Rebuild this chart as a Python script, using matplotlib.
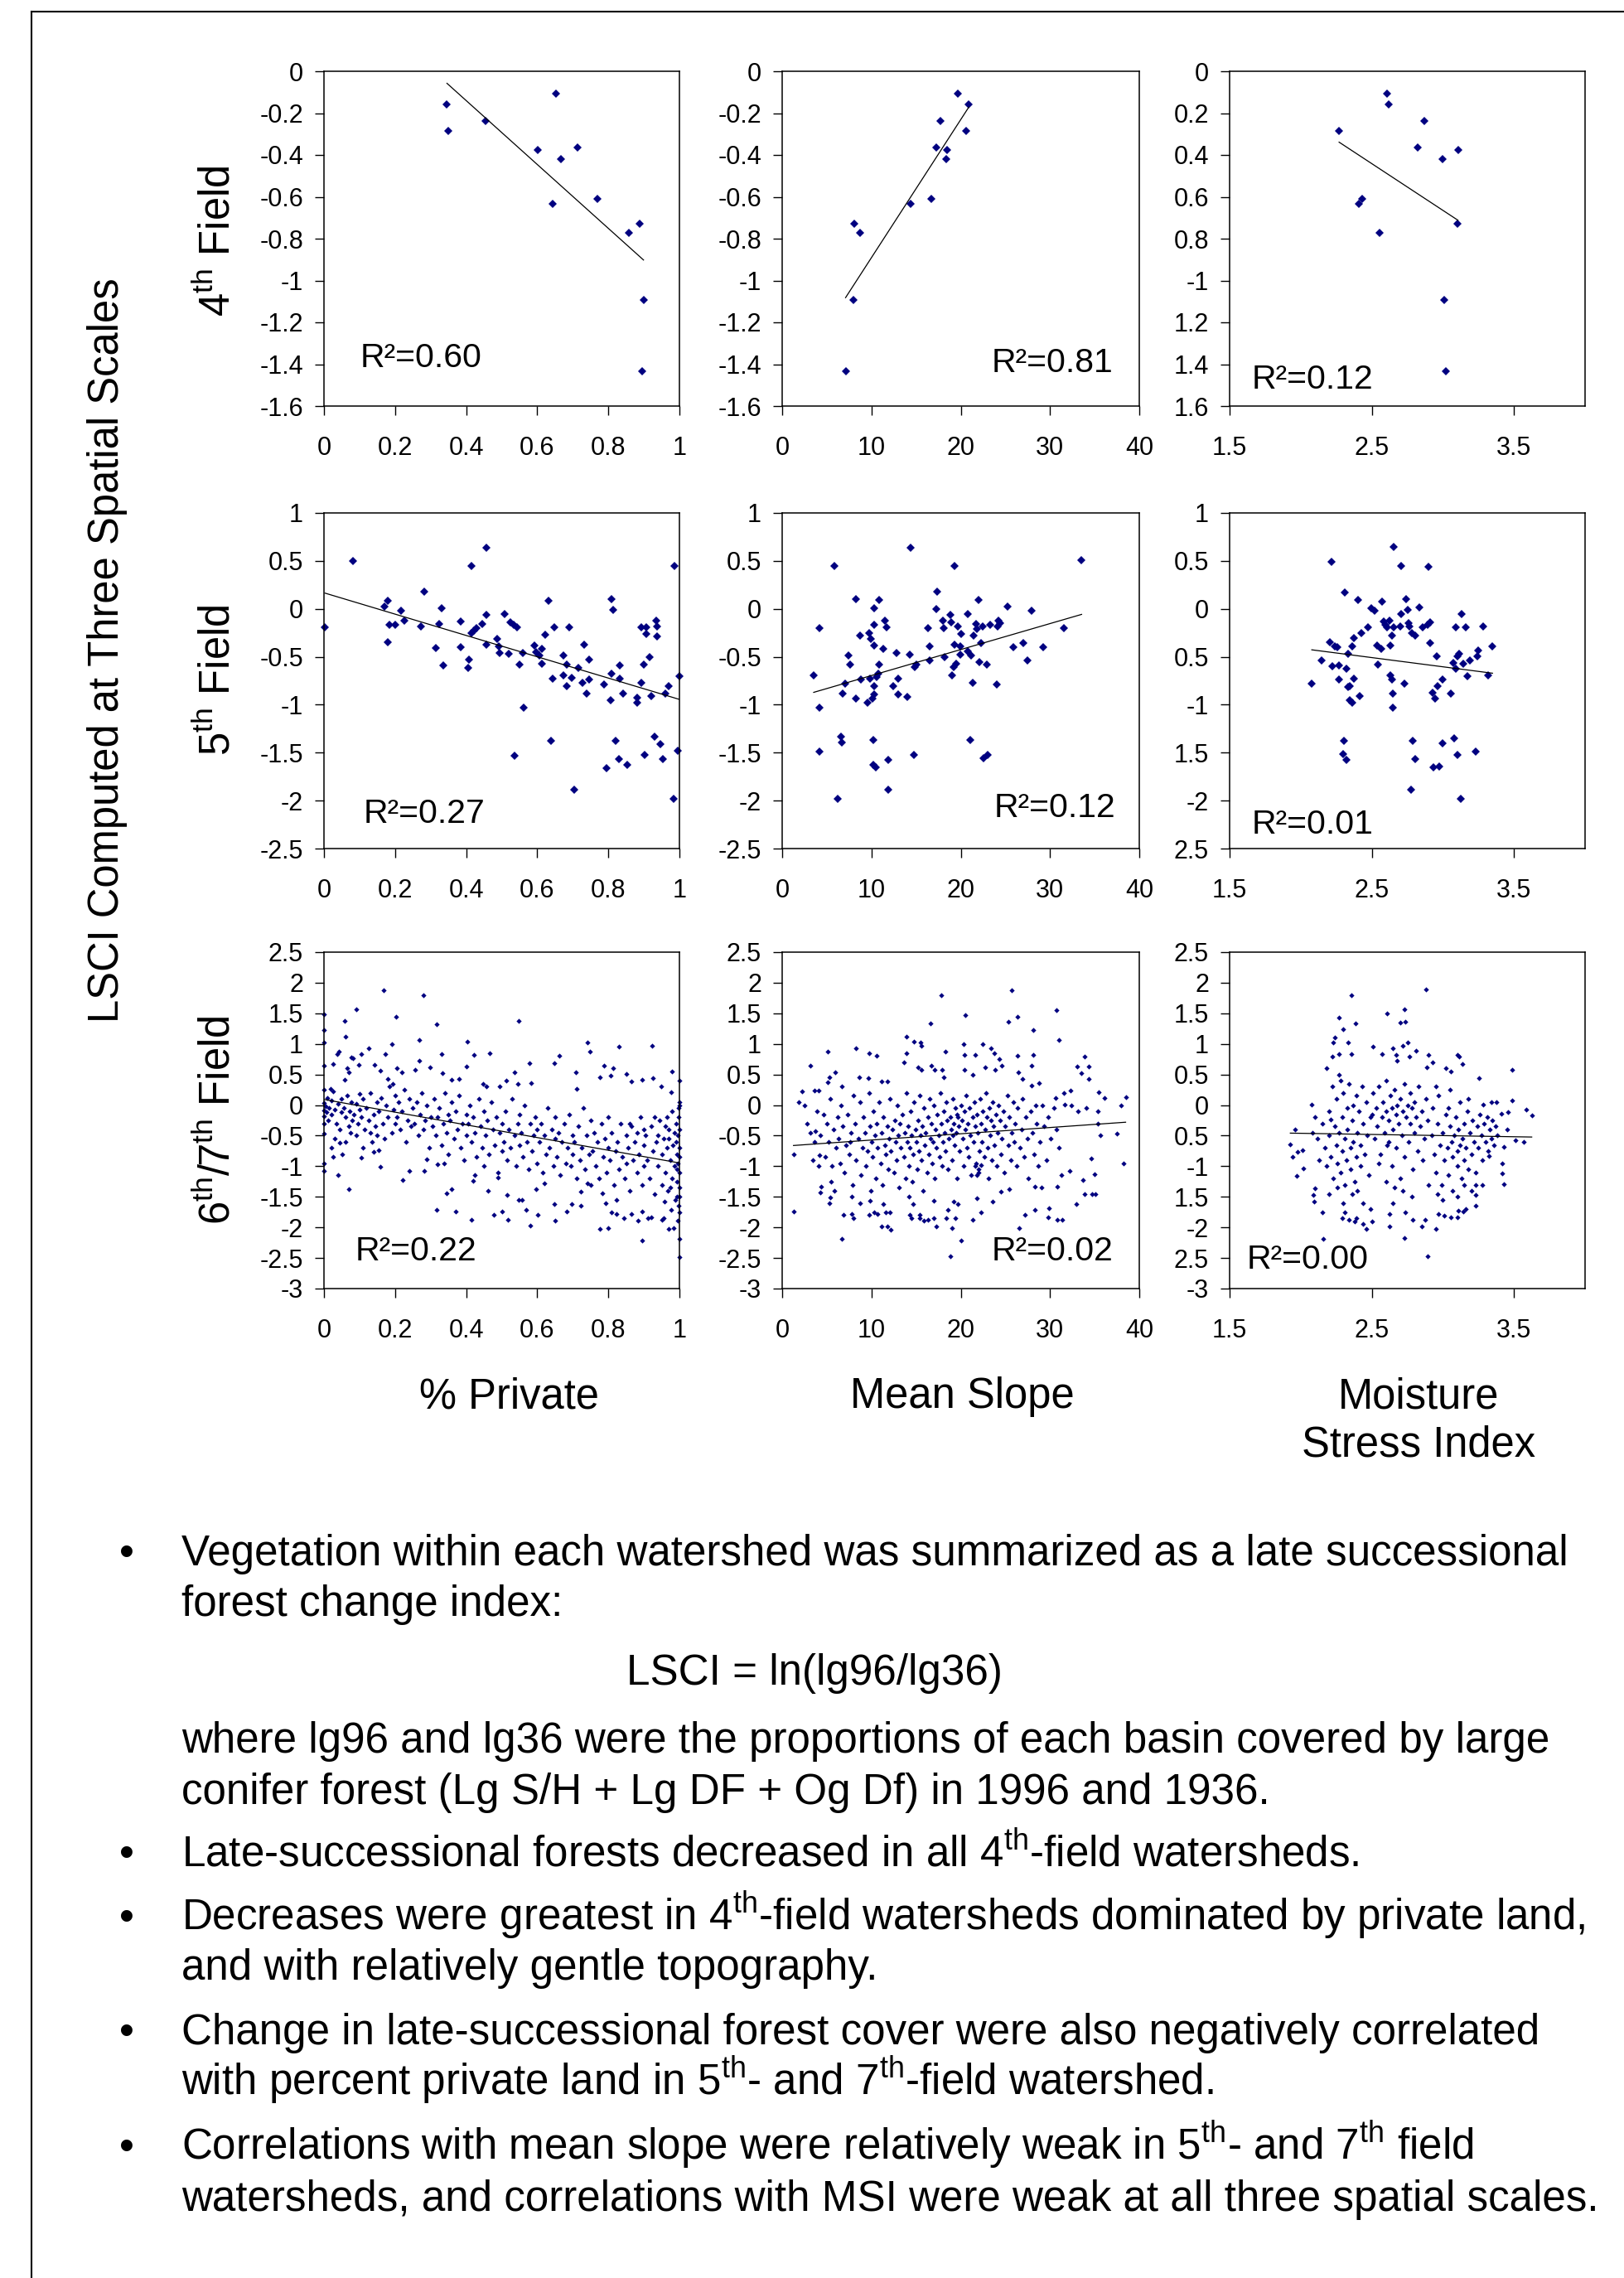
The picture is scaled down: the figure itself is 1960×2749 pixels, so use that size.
import numpy as np
import matplotlib
matplotlib.use("Agg")
import matplotlib.pyplot as plt
from matplotlib.lines import Line2D

plt.rcParams["font.family"] = ["Liberation Sans", "DejaVu Sans"]
plt.rcParams["mathtext.fontset"] = "custom"
plt.rcParams["mathtext.rm"] = "Liberation Sans"
plt.rcParams["mathtext.it"] = "Liberation Sans:italic"
plt.rcParams["mathtext.bf"] = "Liberation Sans:bold"

W, H = 1960, 2749
NAVY = "#000080"

# ---- 4th field watersheds (same LSCI in every column) ----
lsci4 = [-0.108, -0.158, -0.238, -0.287, -0.363, -0.375, -0.42, -0.61, -0.634, -0.729, -0.772, -1.092, -1.432]
private4 = [0.652, 0.346, 0.455, 0.350, 0.714, 0.601, 0.666, 0.769, 0.643, 0.887, 0.858, 0.899, 0.895]
slope4 = [19.7, 20.9, 17.7, 20.6, 17.3, 18.5, 18.35, 16.75, 14.4, 8.1, 8.7, 8.0, 7.1]
msi4 = [2.607, 2.617, 2.868, 2.27, 2.822, 3.106, 2.999, 2.43, 2.41, 3.104, 2.552, 3.009, 3.019]

# ---- 5th field watersheds (x, LSCI) ----
private5 = [(0.003,-0.196),(0.082,0.50),(0.169,0.02),(0.179,0.086),(0.183,-0.17),(0.179,-0.35),(0.20,-0.17),
    (0.217,-0.017),(0.226,-0.12),(0.273,-0.18),(0.281,0.18),(0.314,-0.41),(0.323,-0.16),(0.331,0.01),(0.335,-0.59),
    (0.384,-0.13),(0.384,-0.40),(0.406,-0.62),(0.408,-0.53),(0.415,0.45),(0.415,-0.25),(0.422,-0.23),(0.430,-0.20),
    (0.446,-0.16),(0.458,0.64),(0.457,-0.06),(0.456,-0.37),(0.488,-0.31),(0.493,-0.39),(0.495,-0.46),(0.509,-0.05),
    (0.519,-0.47),(0.525,-0.14),(0.534,-0.17),(0.542,-0.19),(0.537,-1.53),(0.551,-0.58),(0.559,-0.46),(0.562,-1.03),
    (0.592,-0.38),(0.596,-0.45),(0.606,-0.49),(0.614,-0.42),(0.612,-0.57),(0.622,-0.27),(0.632,0.086),(0.638,-1.38),
    (0.644,-0.73),(0.648,-0.19),(0.674,-0.49),(0.674,-0.69),(0.682,-0.58),(0.683,-0.81),(0.690,-0.19),(0.697,-0.72),
    (0.705,-1.89),(0.715,-0.62),(0.728,-0.77),(0.733,-0.37),(0.740,-0.88),(0.745,-0.53),(0.747,-0.74),(0.787,-0.79),
    (0.795,-1.66),(0.807,-0.95),(0.810,0.10),(0.814,-0.01),(0.810,-0.68),(0.821,-1.38),(0.830,-1.57),(0.833,-0.59),
    (0.833,-0.73),(0.841,-0.88),(0.853,-1.63),(0.881,-0.93),(0.881,-0.98),(0.893,-0.19),(0.893,-0.77),(0.899,-0.58),
    (0.901,-1.52),(0.907,-0.19),(0.907,-0.26),(0.917,-0.50),(0.921,-0.91),(0.929,-1.33),(0.934,-0.12),(0.936,-0.18),
    (0.938,-0.29),(0.946,-1.41),(0.954,-1.57),(0.961,-0.88),(0.970,-0.81),(0.984,-1.98),(0.986,0.45),(0.996,-1.48),
    (1.0,-0.70)]
slope5 = [(3.53,-0.694),(4.13,-1.03),(4.2,-0.197),(4.2,-1.49),(5.82,0.443),(6.2,-1.98),(6.61,-1.33),(6.68,-1.39),
    (6.77,-0.88),(7.06,-0.78),(7.4,-0.49),(7.57,-0.58),(8.27,0.104),(8.27,-0.94),(8.68,-0.28),(8.84,-0.74),(9.6,-0.98),
    (9.7,-0.25),(9.86,-0.73),(9.95,-0.31),(10.1,-0.94),(10.17,-1.37),(10.24,-1.63),(10.33,0.01),(10.33,-0.17),
    (10.33,-0.38),(10.33,-0.81),(10.33,-0.89),(10.49,-1.65),(10.59,-0.71),(10.9,0.09),(10.9,-0.585),(11.29,-0.42),
    (11.54,-0.12),(11.67,-0.19),(10.8,-0.68),(11.92,-1.89),(11.92,-1.575),(12.4,-0.81),(12.81,-0.46),(12.97,-0.73),
    (12.97,-0.89),(13.99,-0.915),(14.3,-0.475),(14.4,0.64),(14.72,-1.52),(14.85,-0.61),(15.04,-0.58),(16.37,-0.197),
    (16.53,-0.39),(16.53,-0.54),(17.27,-0.005),(17.39,0.176),(17.96,-0.12),(18.12,-0.197),(18.19,-0.50),(18.86,-0.06),
    (18.92,-0.14),(19.01,-0.694),(19.24,-0.605),(19.3,0.443),(19.3,-0.37),(19.49,-0.576),(19.65,-0.18),(19.94,-0.39),
    (19.97,-0.475),(20.03,-0.26),(20.76,-0.05),(20.83,-0.44),(21.14,-0.49),(21.08,-1.37),(21.37,-0.77),(21.46,-0.28),
    (21.69,-0.16),(21.84,-0.21),(22.0,0.09),(22.1,-0.556),(22.26,-0.36),(22.48,-0.18),(22.58,-1.56),(22.9,-0.585),
    (22.99,-1.52),(23.31,-0.17),(24.0,-0.786),(24.1,-0.18),(24.26,-0.125),(24.42,-0.15),(25.21,0.024),(25.85,-0.40),
    (27.03,-0.36),(27.44,-0.54),(27.89,-0.02),(29.25,-0.40),(31.57,-0.197),(33.54,0.506)]
msi5 = [(2.078,-0.776),(2.145,-0.538),(2.215,0.493),(2.207,-0.352),(2.225,-0.595),(2.239,-0.39),(2.259,-0.404),
    (2.271,-0.59),(2.271,-0.733),(2.302,-1.375),(2.30,-1.518),(2.312,0.172),(2.32,-0.624),(2.322,-1.575),(2.332,-0.467),
    (2.336,-0.819),(2.346,-0.81),(2.346,-0.954),(2.36,-0.983),(2.36,-0.39),(2.372,-0.725),(2.376,-0.309),(2.402,0.092),
    (2.416,-0.911),(2.426,-0.252),(2.473,-0.195),(2.497,0.006),(2.521,-0.017),(2.537,-0.381),(2.541,-0.582),
    (2.567,-0.418),(2.574,0.077),(2.582,-0.132),(2.598,-0.166),(2.608,-0.195),(2.624,-0.123),(2.628,-0.381),
    (2.628,-0.696),(2.644,-0.739),(2.642,-0.275),(2.648,-0.882),(2.648,-1.034),(2.654,0.642),(2.654,-0.195),
    (2.698,-0.18),(2.704,-0.057),(2.708,0.45),(2.728,-0.782),(2.739,0.097),(2.755,-0.009),(2.759,-0.152),(2.763,-0.18),
    (2.775,-1.885),(2.783,-0.252),(2.785,-1.375),(2.805,-0.275),(2.805,-1.57),(2.835,0.011),(2.86,-0.195),(2.89,-0.166),
    (2.90,0.435),(2.91,-0.138),(2.91,-0.361),(2.926,-0.877),(2.936,-1.656),(2.944,-0.94),(2.956,-0.496),(2.964,-0.802),
    (2.976,-1.641),(3.0,-1.404),(3.0,-0.733),(3.057,-0.882),(3.071,-0.567),(3.077,-1.349),(3.091,-0.195),(3.091,-0.624),
    (3.101,-0.496),(3.105,-1.527),(3.117,-0.467),(3.125,-1.985),(3.131,-0.057),(3.141,-0.573),(3.161,-0.195),
    (3.172,-0.704),(3.192,-0.538),(3.228,-1.49),(3.242,-0.496),(3.246,-0.438),(3.282,-0.18),(3.319,-0.69),(3.349,-0.39)]

# ---- 6th/7th field watersheds (x, LSCI) ----
private7 = [(0,1.48),(0,1.22),(0,1.02),(0,0.64),(0,0.25),(0,0.03),(0,-0.09),(0,-0.18),(0,-0.31),(0,-0.47),(0,-0.95),(0,-1.07),
    (0.058,1.37),(0.06,1.12),(0.092,1.57),(0.167,1.88),(0.279,1.80),(0.203,1.45),(0.318,1.32),(0.267,1.06),(0.191,1.0),
    (0.403,1.04),(0.548,1.37),(0.741,1.02),(0.749,0.88),(0.829,0.96),(0.922,0.97),(0.466,0.85),(0.026,0.67),(0.018,0.26),
    (0.038,0.84),(0.042,0.87),(0.076,0.78),(0.082,0.77),(0.106,0.84),(0.126,0.93),(0.172,0.84),(0.097,0.66),(0.066,0.61),
    (0.07,0.54),(0.058,0.41),(0.142,0.66),(0.158,0.56),(0.179,0.43),(0.205,0.61),(0.219,0.54),(0.193,0.35),(0.257,0.57),
    (0.267,0.72),(0.298,0.62),(0.332,0.84),(0.334,0.52),(0.36,0.41),(0.379,0.43),(0.40,0.63),(0.422,0.82),(0.447,0.35),
    (0.456,0.30),(0.494,0.30),(0.513,0.40),(0.537,0.54),(0.545,0.34),(0.577,0.68),(0.582,0.36),(0.647,0.69),(0.663,0.81),
    (0.709,0.54),(0.712,0.27),(0.776,0.46),(0.787,0.64),(0.807,0.48),(0.813,0.60),(0.851,0.51),(0.865,0.39),(0.894,0.41),
    (0.926,0.44),(0.948,0.31),(0.977,0.21),(0.98,0.55),(1.0,0.40),(1.0,0.05),
    (0.04,-1.15),(0.07,-1.37),(0.106,-0.86),(0.026,-0.85),(0.052,-0.81),(0.159,-1.01),(0.141,-0.77),(0.153,-0.74),
    (0.221,-1.23),(0.239,-1.08),(0.282,-1.07),(0.29,-0.88),(0.316,-1.71),(0.32,-0.97),(0.338,-0.95),(0.345,-1.44),
    (0.36,-1.38),(0.37,-1.74),(0.416,-1.87),(0.42,-1.24),(0.424,-1.15),(0.462,-1.40),(0.477,-1.80),(0.489,-1.19),
    (0.502,-1.74),(0.515,-1.47),(0.517,-1.87),(0.548,-1.55),(0.557,-1.55),(0.569,-1.71),(0.581,-1.97),(0.597,-1.38),
    (0.601,-1.80),(0.62,-1.28),(0.647,-1.62),(0.65,-1.89),(0.684,-1.74),(0.696,-1.62),(0.722,-1.65),(0.722,-1.42),
    (0.741,-1.28),(0.776,-2.02),(0.784,-1.44),(0.793,-1.60),(0.80,-2.01),(0.808,-1.76),(0.824,-1.78),(0.824,-1.55),
    (0.843,-1.85),(0.865,-1.78),(0.883,-1.89),(0.894,-2.21),(0.895,-1.74),(0.911,-1.85),(0.921,-1.83),(0.95,-1.87),
    (0.969,-2.03),(0.976,-1.71),(0.984,-2.01),(1.0,-2.19),(1.0,-2.48),(0.996,-1.89),(1.0,-1.76),(0.992,-1.49),
    (0.956,-1.85),(0.958,-1.58),
    (0.005,-0.02),(0.008,-0.12),(0.01,0.12),(0.012,-0.25),(0.015,-0.05),(0.02,0.08),(0.022,-0.15),(0.025,0.22),
    (0.03,-0.08),(0.035,-0.3),(0.04,0.02),(0.045,-0.4),(0.048,-0.12),(0.05,0.1),(0.055,-0.05),(0.06,-0.2),(0.065,0.15),
    (0.07,-0.35),(0.072,-0.1),(0.078,0.05),(0.08,-0.25),(0.085,-0.15),(0.09,0.02),(0.095,-0.3),(0.1,-0.08),(0.1,0.18),
    (0.03,-0.55),(0.06,-0.6),(0.09,-0.5),(0.11,-0.7),(0.02,-0.7),(0.13,-0.45),(0.045,-0.62),(0.075,-0.45),
    (0.105,-0.2),(0.11,0.1),(0.115,-0.4),(0.12,-0.05),(0.125,-0.25),(0.13,0.2),(0.135,-0.6),(0.14,-0.15),(0.145,-0.35),
    (0.15,0.05),(0.15,-0.5),(0.155,-0.1),(0.16,0.12),(0.165,-0.3),(0.17,-0.55),(0.175,0.0),(0.18,-0.2),(0.185,0.3),
    (0.19,-0.45),(0.195,-0.08),(0.2,0.15),(0.2,-0.3),(0.205,-0.2),(0.21,0.05),(0.215,-0.4),(0.22,-0.1),(0.225,0.25),
    (0.23,-0.6),(0.235,-0.25),(0.24,0.1),(0.245,-0.35),(0.25,-0.05),(0.255,-0.3),(0.26,0.05),(0.265,-0.5),(0.27,-0.15),
    (0.275,0.2),(0.28,-0.4),(0.285,-0.25),(0.29,0.0),(0.295,-0.7),(0.3,-0.2),(0.305,-0.35),(0.31,0.1),(0.315,-0.5),
    (0.32,-0.2),(0.325,-0.05),(0.33,-0.65),(0.335,-0.3),(0.34,0.2),(0.345,-0.45),(0.35,-0.15),(0.35,-0.8),(0.355,-0.25),
    (0.36,0.05),(0.365,-0.55),(0.37,-0.1),(0.375,-0.4),(0.38,0.15),(0.385,-0.7),(0.39,-0.3),(0.395,-0.9),(0.4,-0.15),
    (0.4,-0.5),(0.405,-0.3),(0.41,0.0),(0.415,-0.6),(0.42,-0.2),(0.425,-0.45),(0.43,-0.85),(0.435,0.1),(0.44,-0.35),
    (0.445,-0.7),(0.45,-0.1),(0.45,-1.0),(0.455,-0.5),(0.46,-0.25),(0.465,-0.8),(0.47,0.05),(0.475,-0.4),(0.48,-0.65),
    (0.485,-0.2),(0.49,-1.1),(0.495,-0.45),(0.5,-0.3),(0.5,-0.75),(0.505,-0.6),(0.51,-0.1),(0.515,-0.9),(0.52,-0.4),
    (0.525,-0.7),(0.53,0.1),(0.535,-0.5),(0.54,-1.0),(0.545,-0.3),(0.55,-0.65),(0.55,-0.15),(0.555,-0.45),(0.56,-0.85),
    (0.565,0.0),(0.57,-0.6),(0.575,-1.05),(0.58,-0.3),(0.585,-0.75),(0.59,-0.5),(0.595,-0.2),(0.6,-0.95),(0.6,-0.4),
    (0.605,-0.6),(0.61,-0.3),(0.615,-1.1),(0.62,-0.5),(0.625,-0.8),(0.63,-0.05),(0.635,-0.7),(0.64,-0.4),(0.645,-1.0),
    (0.65,-0.55),(0.65,-0.2),(0.655,-0.85),(0.66,-0.45),(0.665,-1.15),(0.67,-0.6),(0.675,-0.3),(0.68,-0.95),(0.685,-0.7),
    (0.69,-0.15),(0.695,-1.0),(0.7,-0.5),(0.7,-0.8),(0.705,-0.6),(0.71,-1.2),(0.715,-0.35),(0.72,-0.9),(0.725,-0.7),
    (0.73,-0.05),(0.735,-1.05),(0.74,-0.5),(0.745,-0.8),(0.75,-0.25),(0.75,-1.3),(0.755,-0.75),(0.76,-0.45),(0.765,-1.0),
    (0.77,-0.6),(0.775,-1.2),(0.78,-0.3),(0.785,-0.85),(0.79,-0.55),(0.795,-1.1),(0.8,-0.7),(0.8,-0.2),(0.805,-0.9),
    (0.81,-0.45),(0.815,-1.3),(0.82,-0.75),(0.825,-0.6),(0.83,-1.05),(0.835,-0.3),(0.84,-0.85),(0.845,-1.2),(0.85,-0.5),
    (0.85,-0.95),(0.855,-0.7),(0.86,-1.4),(0.865,-0.35),(0.87,-0.9),(0.875,-0.6),(0.88,-1.1),(0.885,-0.8),(0.89,-0.2),
    (0.895,-1.3),(0.9,-0.65),(0.9,-1.0),(0.905,-0.5),(0.91,-0.9),(0.915,-1.2),(0.92,-0.35),(0.925,-0.75),(0.93,-1.45),
    (0.935,-0.6),(0.94,-1.0),(0.945,-0.25),(0.95,-0.8),(0.95,-1.3),(0.955,-0.55),(0.96,-1.1),(0.965,-0.7),(0.968,-1.4),
    (0.97,-0.4),(0.975,-0.9),(0.978,-1.2),(0.98,-0.1),(0.982,-0.65),(0.985,-1.0),(0.988,-1.55),(0.99,-0.3),(0.992,-0.8),
    (0.994,-1.25),(0.995,-0.5),(0.996,-0.95),(0.998,-1.65),(0.998,-0.05),(1.0,-0.7),(1.0,-1.1),(1.0,-0.4),(1.0,-1.35),
    (1.0,0.0),(1.0,-0.85),(1.0,-1.5),(0.997,-0.2),(0.993,-1.05),(0.985,-0.45),(0.975,-1.35),(0.965,-0.2),
    (0.86,-0.3),(0.9,-0.4),(0.93,-0.2),(0.97,-0.55),(0.99,-0.6),(0.96,-0.35),(0.88,-0.45),(0.94,-0.5)]

slope7 = [(1.27,-0.80),(1.27,-1.74),(1.84,0.05),(2.23,0.23),(2.54,-0.01),(3.18,0.65),(3.18,-0.45),(3.66,0.24),(3.72,-0.42),
    (4.07,0.24),(4.13,-0.82),(4.07,-1.00),(4.23,-1.43),(4.36,-1.33),(5.09,0.88),(5.09,0.37),(5.25,0.46),(5.98,0.53),
    (6.68,0.30),(6.68,-2.19),(6.84,-1.79),(5.25,-1.61),(5.34,-1.51),(5.88,-1.40),(8.27,0.93),(8.59,0.46),(9.70,0.85),
    (9.63,0.44),(10.59,0.80),(11.13,0.39),(11.76,0.39),(13.67,0.70),(13.9,1.12),(13.93,0.85),(14.79,1.04),(15.49,1.02),
    (15.58,0.97),(15.26,0.62),(15.58,0.57),(16.62,1.33),(16.69,0.65),(17.07,0.57),(17.81,1.80),(17.91,0.57),(18.12,0.45),
    (18.28,0.88),(20.35,1.00),(20.51,1.47),(20.44,0.82),(20.44,0.57),(21.30,0.50),(21.62,0.82),(22.42,1.00),(22.73,0.62),
    (23.37,0.93),(23.75,0.85),(23.85,0.57),(24.33,0.75),(24.58,0.64),(25.34,1.36),(25.69,1.88),(26.39,1.45),(26.39,0.80),
    (26.49,0.54),(26.87,0.43),(28.14,1.23),(28.08,0.82),(27.98,0.65),(27.98,0.32),(28.78,0.36),(30.68,1.55),(31.0,1.06),
    (30.62,0.12),(31.57,0.20),(32.27,0.24),(33.07,0.63),(33.54,0.52),(33.86,0.79),(34.34,0.63),(34.34,0.43),(35.45,0.21),
    (36.09,0.11),(38.47,0.13),(37.93,-0.01),(31.64,0.01),(32.43,-0.01),(33.13,-0.10),(34.1,-0.05),(35.4,-0.10),
    (35.4,-0.30),(35.6,-0.50),(37.5,-0.47),(38.2,-0.96),(34.6,-0.87),(35.0,-1.13),(33.7,-1.22),(33.9,-1.45),(34.7,-1.45),
    (35.1,-1.45),(32.97,-1.62),(32.2,-1.08),(31.3,-1.15),(30.8,-1.33),(30.8,-1.87),(31.4,-1.87),(29.9,-1.69),(29.8,-1.83),
    (29.03,-1.35),(28.3,-1.71),(28.3,-1.33),(27.2,-1.80),(26.5,-2.01),(25.4,-1.38),(24.5,-1.42),(23.6,-1.58),(22.3,-1.76),
    (21.8,-1.53),(21.3,-1.88),(20.0,-2.21),(18.85,-2.47),(19.0,-2.01),(18.4,-1.85),(18.6,-1.71),(19.2,-1.58),(19.4,-1.85),
    (19.65,-1.62),(17.3,-1.98),(16.95,-1.85),(16.95,-1.56),(15.9,-1.89),(16.3,-1.87),(15.4,-1.80),(15.45,-1.85),
    (14.5,-1.85),(14.3,-1.80),(14.7,-1.62),(14.2,-1.49),(12.2,-2.04),(11.8,-1.98),(11.1,-1.98),(11.3,-1.62),(11.6,-1.76),
    (12.1,-1.75),(10.7,-1.78),(10.3,-1.75),(9.7,-1.79),(9.8,-1.56),(8.7,-1.61),(7.95,-1.85),(7.8,-1.78),(7.8,-1.49),
    (2.8,-0.3),(3.4,-0.9),(3.9,-0.1),(3.6,-0.6),
    (4.3,-0.5),(4.6,-0.15),(4.8,-0.85),(5.0,-0.3),(5.2,-0.6),(5.4,0.1),(5.6,-1.0),(5.8,-0.4),(6.0,-0.7),(6.2,-0.2),
    (5.5,-1.25),(6.3,-0.55),(6.5,-0.95),(6.6,0.0),(6.8,-0.35),(7.0,-1.1),(7.1,-0.65),(7.3,-0.15),(7.5,-0.8),(7.7,-0.45),
    (7.9,-1.3),(8.0,0.15),(7.6,-0.6),(8.2,-0.3),(8.3,-0.9),(8.5,-0.55),(8.7,0.05),(8.8,-1.15),(9.0,-0.7),(9.1,-0.2),
    (9.3,-0.45),(9.4,-1.0),(9.6,-0.75),(9.7,0.2),(9.8,-0.35),(9.9,-1.4),(10.0,-0.6),(10.1,-0.85),(10.2,-0.1),(10.4,-0.5),
    (10.5,-1.2),(10.6,-0.3),(10.7,-0.7),(10.9,0.05),(11.0,-0.95),(11.1,-0.45),(11.2,-1.3),(11.3,-0.2),(11.5,-0.65),
    (11.6,-0.8),(11.8,-0.35),(11.9,-1.05),(12.0,-0.55),(12.1,0.1),(12.2,-0.75),(12.3,-0.4),(12.5,-1.1),(12.6,-0.25),
    (12.7,-0.6),(12.8,-0.9),(12.9,0.0),(13.0,-0.5),(13.1,-1.35),(13.2,-0.3),(13.3,-0.7),(13.5,-0.15),(13.6,-0.85),
    (13.7,-0.45),(13.8,-1.2),(13.9,0.2),(14.0,-0.6),(14.1,-0.35),(14.2,-1.0),(14.3,-0.7),(14.4,-0.1),(14.5,-0.5),
    (14.6,-1.25),(14.7,-0.8),(14.8,0.05),(14.9,-0.4),(15.0,-0.6),(15.1,-1.05),(15.2,-0.25),(15.3,-0.75),(15.4,0.15),
    (15.5,-0.5),(15.6,-0.9),(15.7,-0.35),(15.8,-1.4),(15.9,-0.05),(16.0,-0.65),(16.1,-0.45),(16.2,-1.1),(16.3,-0.2),
    (16.4,-0.8),(16.5,0.1),(16.6,-0.55),(16.7,-0.3),(16.8,-0.95),(16.9,-0.6),(17.0,0.0),(17.1,-1.2),(17.2,-0.4),
    (17.3,-0.7),(17.4,-0.15),(17.5,-0.5),(17.6,-0.85),(17.7,0.2),(17.8,-0.3),(17.9,-1.0),(18.0,-0.6),(18.1,-0.1),
    (18.2,-0.45),(18.3,-0.75),(18.4,0.05),(18.5,-0.25),(18.6,-1.05),(18.7,-0.55),(18.8,-0.2),(18.9,-0.4),(19.0,-0.9),
    (19.1,0.1),(19.2,-0.3),(19.3,-0.65),(19.4,-0.05),(19.5,-0.45),(19.6,-1.2),(19.7,-0.2),(19.8,-0.35),(19.9,-0.75),
    (20.0,0.0),(19.15,-0.5),(19.55,-0.15),(20.1,-0.25),(20.2,-0.55),(20.3,-1.0),(20.4,-0.1),(20.5,-0.4),(20.6,0.15),
    (20.7,-0.7),(20.8,-0.3),(20.9,-0.85),(21.0,-0.05),(21.1,-0.5),(21.2,-1.15),(21.3,-0.2),(21.4,-0.6),(21.5,0.05),
    (21.6,-0.35),(21.7,-0.95),(21.8,-0.15),(21.9,-0.45),(22.0,-1.05),(22.1,-0.75),(22.2,0.1),(21.6,-1.0),(22.0,-1.1),
    (22.3,-0.98),(21.8,-1.15),(22.3,-0.3),(22.4,-0.6),(22.5,-0.1),(22.6,-0.85),(22.7,-0.4),(22.8,0.2),(22.9,-0.2),
    (23.0,-0.7),(23.1,-1.2),(23.2,-0.05),(23.3,-0.5),(23.4,-0.25),(23.5,-0.9),(23.6,0.05),(23.7,-0.35),(23.8,-0.65),
    (23.9,-0.15),(24.0,-1.0),(24.1,-0.45),(24.2,0.0),(24.4,-0.25),(24.5,-0.8),(24.6,-0.55),(24.8,-0.1),(24.9,-1.1),
    (25.0,-0.35),(25.2,0.15),(25.3,-0.65),(25.4,-0.2),(25.6,-0.9),(25.7,-0.45),(25.9,0.05),(26.0,-0.6),(26.1,-0.3),
    (26.3,-1.0),(26.4,-0.05),(26.6,-0.7),(26.8,-0.4),(26.9,0.1),(27.1,-0.85),(27.3,-0.2),(27.5,-0.55),(27.6,-1.2),
    (27.8,-0.1),(28.0,-0.45),(28.2,-0.8),(28.4,0.0),(28.5,-0.3),(28.7,-1.0),(28.9,-0.6),(29.1,0.0),(29.3,-0.35),
    (29.6,-0.9),(29.8,-0.2),(30.1,-0.55),(30.4,-0.05),(30.7,-0.4),(31.0,-0.7)]

msi7 = [(1.927,-0.64),(1.94,-0.84),(1.96,-0.40),(1.97,-1.16),(1.975,-0.77),(2.01,-0.74),(2.02,-1.04),(2.076,0.01),
    (2.10,-1.36),(2.09,-1.47),(2.095,-1.58),(2.15,-1.75),(2.16,-2.19),(2.18,0.60),(2.21,-0.23),(2.22,0.79),(2.23,1.03),
    (2.24,1.10),(2.27,1.43),(2.30,1.24),(2.27,0.84),(2.335,1.03),(2.356,1.80),(2.356,0.84),(2.385,1.33),(2.31,-1.76),
    (2.29,-1.85),(2.34,-1.87),(2.38,-1.90),(2.39,-1.85),(2.44,-1.94),(2.46,-2.03),(2.49,-1.70),(2.50,-1.90),(2.51,0.96),
    (2.57,0.84),(2.61,1.50),(2.625,-1.78),(2.625,-1.99),(2.65,-1.61),(2.65,0.93),(2.67,0.82),(2.68,0.73),(2.70,1.35),
    (2.73,1.56),(2.734,1.36),(2.72,0.97),(2.75,1.03),(2.765,0.79),(2.81,0.89),(2.73,-2.17),(2.734,-1.75),(2.79,-1.87),
    (2.88,1.89),(2.885,0.62),(2.90,0.82),(2.925,0.70),(2.89,-2.47),(2.854,-1.99),(2.875,-1.87),(2.95,-2.02),(2.97,-1.78),
    (3.01,-1.81),(3.055,-1.84),(3.02,0.61),(3.055,0.55),(3.105,0.82),(3.115,0.79),(3.14,0.67),(3.11,-1.72),(3.105,-1.83),
    (3.145,-1.74),(3.16,-1.70),(3.23,-1.47),(3.23,-1.64),(3.23,-1.31),(3.275,-1.31),(3.255,0.44),(3.285,0.01),(3.34,0.05),
    (3.375,0.05),(3.41,-0.14),(3.46,-0.12),(3.455,-0.40),(3.486,0.58),(3.486,0.07),(3.51,-0.57),(3.57,-0.60),
    (3.585,-0.08),(3.625,-0.17),(3.426,-0.68),(3.42,-0.96),(3.42,-1.12),(3.43,-1.29),(3.325,-0.83),
    (2.15,-0.3),(2.17,-0.7),(2.18,-1.0),(2.2,-0.1),(2.2,-0.5),(2.21,-0.85),(2.22,0.3),(2.23,-1.2),(2.24,-0.35),
    (2.25,-0.65),(2.25,0.1),(2.26,-0.95),(2.27,-0.45),(2.27,0.5),(2.28,-1.1),(2.29,-0.2),(2.29,-0.75),(2.3,0.2),
    (2.31,-0.55),(2.31,-1.3),(2.32,-0.9),(2.33,-0.05),(2.33,-0.4),(2.34,0.35),(2.35,-0.7),(2.35,-1.05),(2.36,-0.25),
    (2.37,0.0),(2.37,-0.6),(2.38,-1.25),(2.39,-0.85),(2.39,0.15),(2.4,-0.45),(2.41,-0.1),(2.42,-1.0),(2.42,-0.65),
    (2.43,0.3),(2.44,-0.3),(2.45,-0.8),(2.46,0.05),(2.47,-0.5),(2.48,-1.15),(2.49,-0.2),(2.12,-0.55),(2.13,-0.9),
    (2.1,-0.2),(2.08,-0.45),(2.28,0.4),(2.36,-1.45),(2.26,-1.35),(2.4,-1.4),(2.2,-1.45),(2.44,-1.6),(2.3,-1.6),
    (2.5,-0.15),(2.51,0.2),(2.52,-0.55),(2.53,-0.05),(2.54,-0.35),(2.55,0.3),(2.56,-0.8),(2.57,-0.2),(2.58,0.05),
    (2.59,-0.45),(2.6,-0.1),(2.6,0.4),(2.61,-0.65),(2.62,-0.25),(2.63,0.15),(2.64,-1.0),(2.64,-0.05),(2.65,-0.4),
    (2.66,0.25),(2.67,-0.15),(2.67,-0.7),(2.68,0.0),(2.69,-0.3),(2.7,-1.2),(2.7,0.1),(2.71,-0.5),(2.72,-0.1),(2.73,0.35),
    (2.73,-0.85),(2.74,-0.2),(2.75,0.0),(2.76,-0.6),(2.77,-0.3),(2.77,0.2),(2.78,-0.05),(2.79,-1.05),(2.8,-0.45),
    (2.8,0.05),(2.81,-0.2),(2.82,-0.75),(2.83,0.3),(2.84,-0.35),(2.85,-0.1),(2.86,-0.9),(2.87,-0.55),(2.88,0.1),
    (2.89,-0.25),(2.9,-1.3),(2.72,-1.4),(2.66,-1.35),(2.78,-1.5),(2.6,-1.25),(2.55,-0.95),(2.62,-0.6),
    (2.92,-0.5),(2.93,-0.05),(2.94,-0.8),(2.95,-1.1),(2.96,-0.3),(2.97,0.15),(2.98,-0.65),(2.99,-1.3),(3.0,-0.45),
    (3.01,-0.9),(3.02,-0.15),(3.03,-0.7),(3.04,-1.15),(3.05,-0.35),(3.05,0.25),(3.06,-0.6),(3.07,-0.85),(3.07,-1.4),
    (3.08,-0.5),(3.09,-0.2),(3.1,-0.75),(3.1,-1.0),(3.11,-0.4),(3.12,0.05),(3.12,-0.65),(3.13,-1.2),(3.14,-0.55),
    (3.15,-0.3),(3.15,-0.9),(3.16,-0.7),(3.17,-0.1),(3.18,-1.05),(3.19,-0.45),(3.2,-0.8),(3.21,-0.25),(3.22,-0.6),
    (3.23,-1.1),(3.24,-0.35),(3.25,-0.7),(3.26,-0.15),(3.27,-0.5),(3.28,-0.9),(3.29,-0.3),(3.3,-0.6),(3.31,-0.2),
    (3.32,-0.75),(3.33,-0.4),(3.34,-0.55),(3.35,-0.25),(3.36,-0.65),(3.37,-0.35),(3.38,-0.5),(3.0,-1.55),(3.1,-1.5),
    (3.15,-1.3),(2.96,-1.45),(3.2,-1.4),(3.04,-0.05),(2.95,0.3),(3.18,0.1)]

r2_labels = [["R²=0.60", "R²=0.81", "R²=0.12"],
             ["R²=0.27", "R²=0.12", "R²=0.01"],
             ["R²=0.22", "R²=0.02", "R²=0.00"]]
r2_pos = [[(0.101, 0.117), (0.586, 0.101), (0.063, 0.052)],
          [(0.111, 0.076), (0.594, 0.094), (0.063, 0.044)],
          [(0.088, 0.084), (0.587, 0.084), (0.049, 0.059)]]

row_ticks = [[0, -0.2, -0.4, -0.6, -0.8, -1, -1.2, -1.4, -1.6],
             [1, 0.5, 0, -0.5, -1, -1.5, -2, -2.5],
             [2.5, 2, 1.5, 1, 0.5, 0, -0.5, -1, -1.5, -2, -2.5, -3]]
row_ticklabels = [["0", "-0.2", "-0.4", "-0.6", "-0.8", "-1", "-1.2", "-1.4", "-1.6"],
                  ["1", "0.5", "0", "-0.5", "-1", "-1.5", "-2", "-2.5"],
                  ["2.5", "2", "1.5", "1", "0.5", "0", "-0.5", "-1", "-1.5", "-2", "-2.5", "-3"]]
# the right-hand column lost its minus signs in the original slide
msi_ticklabels = [["0", "0.2", "0.4", "0.6", "0.8", "-1", "1.2", "1.4", "1.6"],
                  ["1", "0.5", "0", "0.5", "-1", "1.5", "-2", "2.5"],
                  ["2.5", "2", "1.5", "1", "0.5", "0", "0.5", "-1", "1.5", "-2", "2.5", "-3"]]

col_xlim = [(0, 1), (0, 40), (1.5, 4.0)]
col_xticks = [[0, 0.2, 0.4, 0.6, 0.8, 1], [0, 10, 20, 30, 40], [1.5, 2.5, 3.5]]
col_xticklabels = [["0", "0.2", "0.4", "0.6", "0.8", "1"], ["0", "10", "20", "30", "40"], ["1.5", "2.5", "3.5"]]

fig = plt.figure(figsize=(W / 100, H / 100), dpi=100)

col_left = [391, 944, 1484]
col_width = [429, 431, 429]
row_top = [86, 619, 1149]
row_height = [404, 405, 406]
marker_size = [5.0, 5.0, 3.2]


def as_xy(pts):
    a = np.array(pts, dtype=float)
    return a[:, 0], a[:, 1]


rows = [
    [(np.array(private4), np.array(lsci4)), (np.array(slope4), np.array(lsci4)), (np.array(msi4), np.array(lsci4))],
    [as_xy(private5), as_xy(slope5), as_xy(msi5)],
    [as_xy(private7), as_xy(slope7), as_xy(msi7)],
]

for r in range(3):
    for c in range(3):
        x, y = rows[r][c]
        ax = fig.add_axes([col_left[c] / W, 1 - (row_top[r] + row_height[r]) / H,
                           col_width[c] / W, row_height[r] / H])
        ax.plot(x, y, ls="none", marker="D", ms=marker_size[r], mfc=NAVY, mec=NAVY,
                mew=0, clip_on=False, zorder=2)
        k, b = np.polyfit(x, y, 1)
        xx = np.array([x.min(), x.max()])
        ax.plot(xx, k * xx + b, color="black", lw=0.9, zorder=3)

        ax.set_xlim(*col_xlim[c])
        ax.set_ylim(row_ticks[r][-1], row_ticks[r][0])
        ax.set_xticks(col_xticks[c])
        ax.set_xticklabels(col_xticklabels[c])
        ax.set_yticks(row_ticks[r])
        ax.set_yticklabels(msi_ticklabels[r] if c == 2 else row_ticklabels[r])
        ax.tick_params(axis="both", direction="out", length=8, width=1, labelsize=22, colors="black")
        ax.tick_params(axis="x", pad=18)
        ax.tick_params(axis="y", pad=10)
        for s in ax.spines.values():
            s.set_linewidth(1.1)
            s.set_color("black")
        fx, fy = r2_pos[r][c]
        ax.text(fx, fy, r2_labels[r][c], transform=ax.transAxes, fontsize=29.5,
                ha="left", va="baseline")

# row and axis titles
fig.text(130 / W, 1 - 785 / H, "LSCI Computed at Three Spatial Scales", rotation=90,
         ha="center", va="center", fontsize=36.5)
row_names = [r"4$^{\mathrm{th}}$ Field", r"5$^{\mathrm{th}}$ Field", r"6$^{\mathrm{th}}$/7$^{\mathrm{th}}$ Field"]
for name, yc in zip(row_names, [291, 821, 1352]):
    fig.text(263 / W, 1 - yc / H, name, rotation=90, ha="center", va="center", fontsize=36.5)

fig.text(614 / W, 1 - 1699 / H, "% Private", ha="center", va="baseline", fontsize=36.5)
fig.text(1161 / W, 1 - 1699 / H, "Mean Slope", ha="center", va="baseline", fontsize=36.5)
fig.text(1712 / W, 1 - 1699 / H, "Moisture", ha="center", va="baseline", fontsize=36.5)
fig.text(1712 / W, 1 - 1757 / H, "Stress Index", ha="center", va="baseline", fontsize=36.5)

# bullet text under the charts
bullet_lines = [
    (1889, True, "Vegetation within each watershed was summarized as a late successional"),
    (1950, False, "forest change index:"),
    (2115, False, "where lg96 and lg36 were the proportions of each basin covered by large"),
    (2177, False, "conifer forest (Lg S/H + Lg DF + Og Df) in 1996 and 1936."),
    (2252, True, r"Late-successional forests decreased in all 4$^{\mathrm{th}}$-field watersheds."),
    (2329, True, r"Decreases were greatest in 4$^{\mathrm{th}}$-field watersheds dominated by private land,"),
    (2389, False, "and with relatively gentle topography."),
    (2467, True, "Change in late-successional forest cover were also negatively correlated"),
    (2528, False, r"with percent private land in 5$^{\mathrm{th}}$- and 7$^{\mathrm{th}}$-field watershed."),
    (2606, True, r"Correlations with mean slope were relatively weak in 5$^{\mathrm{th}}$- and 7$^{\mathrm{th}}$ field"),
    (2668, False, "watersheds, and correlations with MSI were weak at all three spatial scales."),
]
for yb, has_bullet, line in bullet_lines:
    if has_bullet:
        fig.text(153 / W, 1 - yb / H, "•", ha="center", va="baseline", fontsize=36.8)
    fig.text(219 / W, 1 - yb / H, line, ha="left", va="baseline", fontsize=36.8)
fig.text(983 / W, 1 - 2033 / H, "LSCI = ln(lg96/lg36)", ha="center", va="baseline", fontsize=36.8)

# slide border (top and left edges only)
fig.add_artist(Line2D([38 / W, 38 / W], [0, 1 - 14 / H], transform=fig.transFigure, color="black", lw=1.5))
fig.add_artist(Line2D([38 / W, 1], [1 - 14 / H, 1 - 14 / H], transform=fig.transFigure, color="black", lw=1.5))

fig.savefig("out.png", dpi=100)
plt.close(fig)
